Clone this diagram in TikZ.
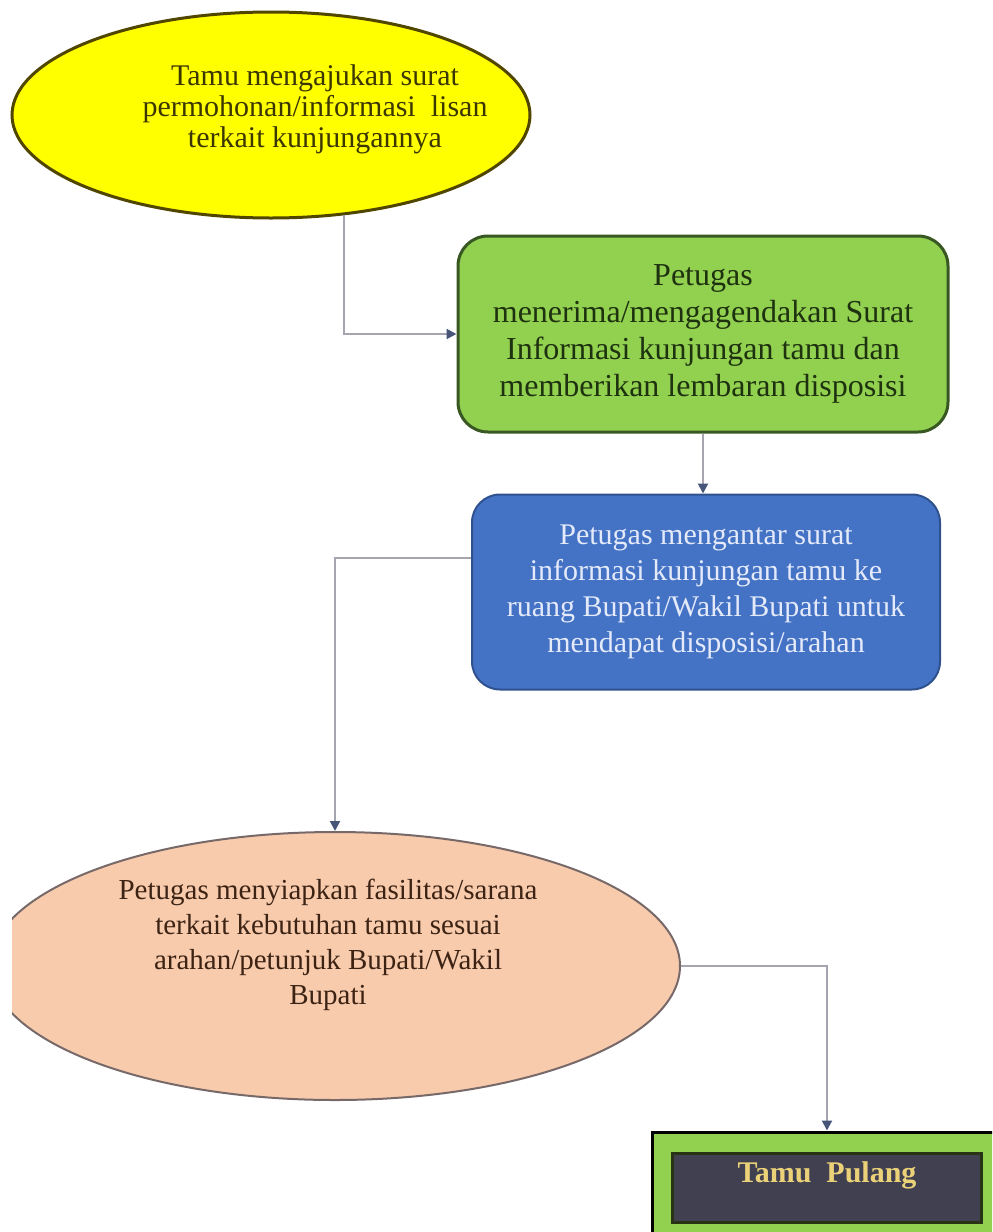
\documentclass[tikz,border=0pt]{standalone}
\usepackage{fontspec}
\setmainfont{Liberation Serif}
\usetikzlibrary{shapes.geometric,arrows.meta}

\definecolor{kuning}{RGB}{255,255,0}
\definecolor{kuningtepi}{RGB}{80,70,0}
\definecolor{kuningteks}{RGB}{60,55,0}
\definecolor{hijau}{RGB}{146,208,80}
\definecolor{hijautepi}{RGB}{56,87,35}
\definecolor{hijauteks}{RGB}{30,50,15}
\definecolor{biru}{RGB}{68,114,196}
\definecolor{birutepi}{RGB}{47,82,143}
\definecolor{biruteks}{RGB}{228,234,250}
\definecolor{salem}{RGB}{248,203,173}
\definecolor{salemtepi}{RGB}{120,105,105}
\definecolor{salemteks}{RGB}{60,35,20}
\definecolor{gelap}{RGB}{64,64,80}
\definecolor{gelaptepi}{RGB}{40,50,20}
\definecolor{emas}{RGB}{235,210,120}
\definecolor{garis}{RGB}{165,165,175}
\definecolor{ujung}{RGB}{70,85,120}

\begin{document}
\begin{tikzpicture}[x=0.5pt, y=-0.5pt,
    oval/.style={ellipse, draw, inner sep=0pt},
    kotak/.style={rectangle, draw, inner sep=0pt, align=center},
    teks/.style={align=center, inner sep=0pt}]
  \useasboundingbox (0,0) rectangle (992,1232);
  \clip (0,0) rectangle (992,1232);

  % langkah-langkah
  \node[oval, fill=kuning, draw=kuningtepi, line width=1.5pt,
    minimum width=259pt, minimum height=103pt] (tamu) at (271,115) {};
  \node[teks, text=kuningteks, font=\fontsize{15}{15.5}\selectfont]
    (tamuteks) at (315,109) {Tamu mengajukan surat\\
    permohonan/informasi\ \ lisan\\ terkait kunjungannya};

  \node[kotak, rounded corners=15pt, fill=hijau, draw=hijautepi,
    line width=1.5pt, minimum width=245pt, minimum height=98pt,
    text=hijauteks, font=\fontsize{16}{18.5}\selectfont] (terima)
    at (703,334) {Petugas\\ menerima/mengagendakan Surat\\
    Informasi kunjungan tamu dan\\ memberikan lembaran disposisi};

  \node[kotak, rounded corners=14pt, fill=biru, draw=birutepi,
    line width=1pt, minimum width=234pt, minimum height=97.5pt,
    text=biruteks, font=\fontsize{15}{18}\selectfont] (antar)
    at (706,592) {Petugas mengantar surat\\ informasi kunjungan tamu ke\\
    ruang Bupati/Wakil Bupati untuk\\ mendapat disposisi/arahan};

  \begin{scope}
    \clip (12,0) rectangle (992,1232);
    \node[oval, fill=salem, draw=salemtepi, line width=1pt,
      minimum width=345pt, minimum height=134pt] (siapkan) at (335,966) {};
  \end{scope}
  \node[teks, text=salemteks, font=\fontsize{14.5}{17.5}\selectfont]
    (siapkanteks) at (328,945) {Petugas menyiapkan fasilitas/sarana\\
    terkait kebutuhan tamu sesuai\\ arahan/petunjuk Bupati/Wakil\\ Bupati};

  \node[rectangle, fill=hijau, draw=black, line width=1.5pt,
    minimum width=175pt, minimum height=60pt] (pulangluar) at (827,1192) {};
  \node[rectangle, fill=gelap, draw=gelaptepi, line width=1.5pt,
    inner sep=0pt, minimum width=154.5pt, minimum height=34.5pt,
    text=emas, font=\bfseries\fontsize{15}{18}\selectfont,
    text height=11pt, text depth=16pt] (pulang) at (827,1187.5)
    {Tamu\ \ Pulang};

  % alur
  \begin{scope}[->, >={Triangle[length=5pt, width=5pt, color=ujung]},
      draw=garis, line width=1pt]
    \draw (tamu.-54) |- (terima.west);
    \draw (terima.south) -- (terima.south |- antar.north);
    \draw ([yshift=17pt]antar.west) -| (siapkan.north);
    \draw (siapkan.east) -| (pulangluar.north);
  \end{scope}
\end{tikzpicture}
\end{document}
